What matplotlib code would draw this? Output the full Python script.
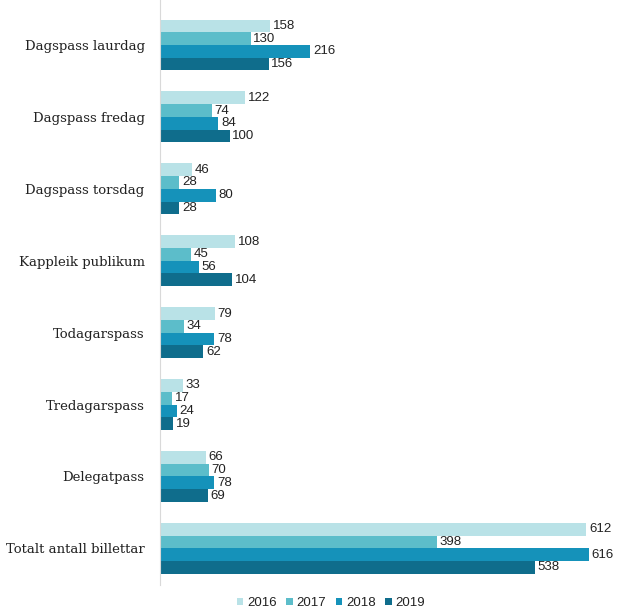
import matplotlib.pyplot as plt
import numpy as np

# categories from top to bottom
categories = ["Dagspass laurdag", "Dagspass fredag", "Dagspass torsdag", "Kappleik publikum",
              "Todagarspass", "Tredagarspass", "Delegatpass", "Totalt antall billettar"]
years = ["2016", "2017", "2018", "2019"]
v2016 = [158, 122, 46, 108, 79, 33, 66, 612]
v2017 = [130, 74, 28, 45, 34, 17, 70, 398]
v2018 = [216, 84, 80, 56, 78, 24, 78, 616]
v2019 = [156, 100, 28, 104, 62, 19, 69, 538]
colors = ["#b9e2e7", "#5cbdca", "#1592ba", "#0f6d8c"]

fig = plt.figure(figsize=(6.42, 6.14), dpi=100)
ax = fig.add_axes([160 / 642, 1 - 585 / 614, 470 / 642, 585 / 614])

y = np.arange(len(categories))
h = 0.177
series = [v2016, v2017, v2018, v2019]
for k, (vals, col, yr) in enumerate(zip(series, colors, years)):
    pos = y + (k - 1.5) * h
    ax.barh(pos, vals, height=h, color=col, label=yr)
    for p, v in zip(pos, vals):
        ax.text(v + 4, p, str(v), va="center", ha="left", fontsize=9.5,
                family="Liberation Sans", color="#222222")

ax.set_xlim(0, 675)
ax.set_ylim(7.51, -0.626)
ax.set_yticks(y)
ax.set_yticklabels(categories, family="DejaVu Serif", fontsize=9.5, color="#222222")
ax.tick_params(axis="y", length=0, pad=11)
ax.set_xticks([])
for s in ["top", "right", "bottom"]:
    ax.spines[s].set_visible(False)
ax.spines["left"].set_color("#d9d9d9")

leg = fig.legend(loc="center", bbox_to_anchor=(331 / 642, 1 - 603 / 614), ncol=4,
                 frameon=False, handlelength=0.5, handleheight=0.5, handletextpad=0.3,
                 columnspacing=0.7, prop={"family": "Liberation Sans", "size": 9.5})
for t in leg.get_texts():
    t.set_color("#222222")

fig.savefig("out.png", dpi=100)
